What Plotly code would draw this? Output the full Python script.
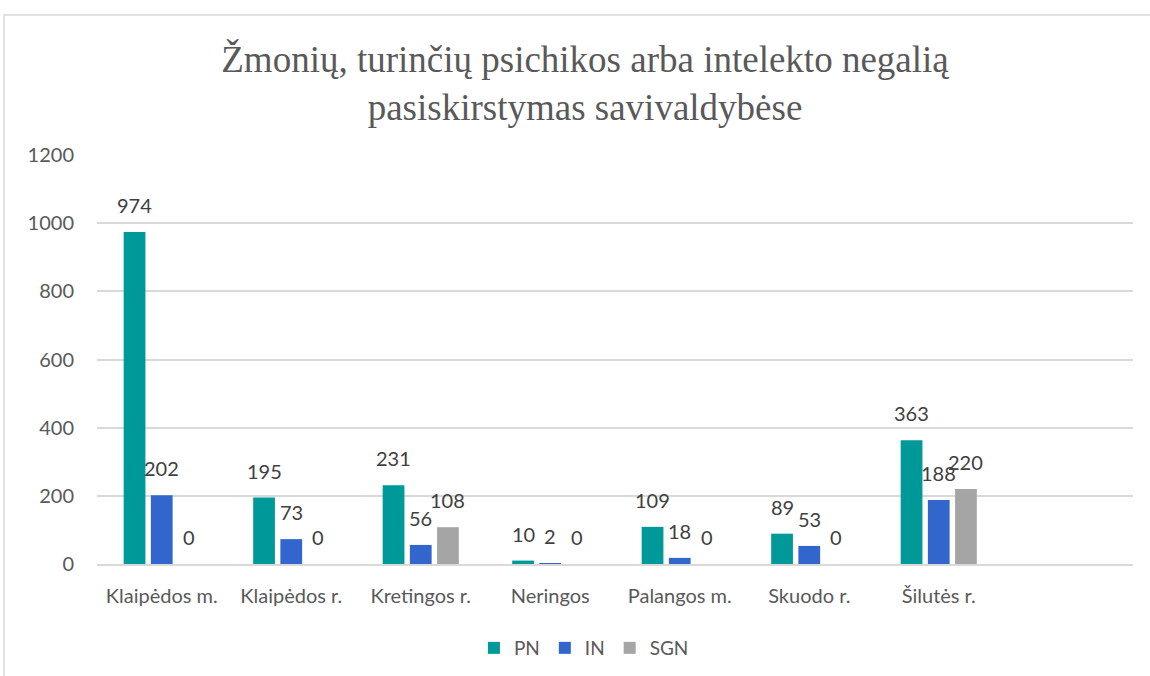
import plotly.graph_objects as go

categories = ["Klaipėdos m.", "Klaipėdos r.", "Kretingos r.", "Neringos",
              "Palangos m.", "Skuodo r.", "Šilutės r."]
series_names = ["PN", "IN", "SGN"]
pn = [974, 195, 231, 10, 109, 89, 363]
in_ = [202, 73, 56, 2, 18, 53, 188]
sgn = [0, 0, 108, 0, 0, 0, 220]
colors = ["#009999", "#3366CC", "#A5A5A5"]
y_ticks = [0, 200, 400, 600, 800, 1000, 1200]

title_text = "Žmonių, turinčių psichikos arba intelekto negalią<br>pasiskirstymas savivaldybėse"

W, H = 1150, 676
ml, mr, mt, mb = 97, 17, 155, 112
pw = W - ml - mr
ph = H - mt - mb

fig = go.Figure()
all_vals = [pn, in_, sgn]
for name, vals, col in zip(series_names, all_vals, colors):
    fig.add_trace(go.Bar(
        name=name, x=categories, y=vals, marker_color=col,
        marker_line_width=0,
    ))

slot_px = pw / 8.0
bargap = 0.37
bargroupgap = 0.2
group_px = slot_px * (1 - bargap)
bar_slot = group_px / 3
annotations = []
for i, vals in enumerate(all_vals):
    xshift = (i - 1) * bar_slot
    for c, v in zip(categories, vals):
        annotations.append(dict(
            x=c, y=v, xref="x", yref="y", text=str(v), showarrow=False,
            xshift=xshift, yshift=27, yanchor="middle",
            font=dict(family="Lato", size=20, color="#404040"),
        ))

fig.update_layout(
    width=W, height=H,
    margin=dict(l=ml, r=mr, t=mt, b=mb, autoexpand=False),
    paper_bgcolor="white", plot_bgcolor="white",
    barmode="group", bargap=bargap, bargroupgap=bargroupgap,
    title=dict(text=title_text, x=585 / W, xanchor="center", xref="container",
               y=1 - 72 / H, yanchor="middle", yref="container",
               font=dict(family="Liberation Serif", size=37, color="#595959")),
    font=dict(family="Lato", size=20, color="#595959"),
    xaxis=dict(type="category", range=[-0.5, 7.5], showgrid=False,
               showline=True, linecolor="#D9D9D9", linewidth=1.5,
               ticks="", ticklabelstandoff=13, automargin=False,
               tickfont=dict(family="Lato", size=20, color="#595959")),
    yaxis=dict(range=[0, 1200], tickvals=y_ticks, showgrid=True,
               gridcolor="#D9D9D9", gridwidth=1.5, zeroline=False,
               ticks="", ticklabelstandoff=22, automargin=False,
               tickfont=dict(family="Lato", size=20, color="#595959")),
    legend=dict(orientation="h", x=0.47, xanchor="center", y=-(648 - 564) / ph,
                yanchor="middle", font=dict(family="Lato", size=19, color="#595959"),
                itemwidth=30, tracegroupgap=0),
    annotations=annotations,
    shapes=[dict(type="rect", xref="paper", yref="paper",
                 x0=(4 - ml) / pw, x1=1.2, y0=-0.5, y1=(H - mb - 15) / ph,
                 line=dict(color="#D9D9D9", width=1.5), layer="below")],
)

fig.write_html("out.html", config={"displayModeBar": False},
               post_script="document.body.style.margin='0';")
